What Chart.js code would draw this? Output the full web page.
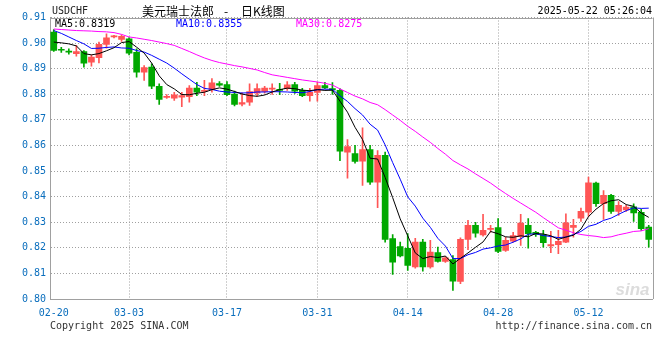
<!DOCTYPE html>
<html>
<head>
<meta charset="utf-8">
<script src="https://cdn.jsdelivr.net/npm/chart.js@4.4.1/dist/chart.umd.min.js"></script>
<style>
  html, body { margin: 0; padding: 0; background: #fff; }
  canvas { display: block; }
</style>
</head>
<body>
<canvas id="kline" width="660" height="360"></canvas>
<script>
// --- data ---
const dates = [
  '02-20','02-21','02-22','02-24','02-25','02-26','02-27','02-28','03-01','03-02',
  '03-03','03-04','03-05','03-06','03-07','03-08','03-10','03-11','03-12','03-13',
  '03-14','03-15','03-16','03-17','03-18','03-19','03-20','03-21','03-22','03-24',
  '03-25','03-26','03-27','03-28','03-29','03-31','04-01','04-02','04-03','04-04',
  '04-05','04-07','04-08','04-09','04-10','04-11','04-12','04-14','04-15','04-16',
  '04-17','04-18','04-19','04-21','04-22','04-23','04-24','04-25','04-26','04-28',
  '04-29','04-30','05-01','05-02','05-03','05-05','05-06','05-07','05-08','05-09',
  '05-10','05-12','05-13','05-14','05-15','05-16','05-17','05-19','05-20','05-21'
];
const tickLabels = ['02-20', '03-03', '03-17', '03-31', '04-14', '04-28', '05-12'];

const open = [
  0.9043,0.8974,0.8967,0.8959,0.8967,0.8925,0.8943,0.8995,0.9024,0.9014,
  0.9017,0.8964,0.8886,0.8906,0.8831,0.8788,0.8785,0.8789,0.8791,0.8824,
  0.8811,0.8818,0.8842,0.8838,0.8801,0.8761,0.8769,0.8804,0.8811,0.8820,
  0.8819,0.8822,0.8838,0.8815,0.8795,0.8807,0.8834,0.8822,0.8815,0.8574,
  0.8568,0.8539,0.8584,0.8457,0.8561,0.8236,0.8205,0.8198,0.8125,0.8222,
  0.8125,0.8181,0.8147,0.8154,0.8069,0.8233,0.8288,0.8250,0.8272,0.8279,
  0.8190,0.8226,0.8245,0.8288,0.8261,0.8252,0.8207,0.8212,0.8222,0.8280,
  0.8316,0.8339,0.8453,0.8373,0.8405,0.8342,0.8348,0.8360,0.8339,0.8281
];
const high = [
  0.9053,0.8983,0.8978,0.8991,0.8971,0.8954,0.9004,0.9036,0.9030,0.9032,
  0.9022,0.8978,0.8912,0.8919,0.8841,0.8799,0.8808,0.8808,0.8834,0.8847,
  0.8854,0.8861,0.8850,0.8850,0.8812,0.8806,0.8841,0.8841,0.8831,0.8841,
  0.8843,0.8850,0.8847,0.8823,0.8823,0.8847,0.8847,0.8846,0.8822,0.8623,
  0.8600,0.8669,0.8600,0.8580,0.8574,0.8252,0.8222,0.8256,0.8237,0.8233,
  0.8229,0.8203,0.8166,0.8170,0.8239,0.8307,0.8300,0.8331,0.8288,0.8314,
  0.8242,0.8261,0.8331,0.8314,0.8264,0.8268,0.8264,0.8268,0.8333,0.8311,
  0.8355,0.8476,0.8457,0.8424,0.8409,0.8381,0.8366,0.8372,0.8350,0.8288
];
const low = [
  0.8967,0.8964,0.8957,0.8949,0.8906,0.8910,0.8923,0.8980,0.9020,0.9007,
  0.8954,0.8867,0.8854,0.8822,0.8760,0.8784,0.8776,0.8752,0.8769,0.8795,
  0.8795,0.8808,0.8831,0.8795,0.8754,0.8754,0.8756,0.8793,0.8804,0.8799,
  0.8798,0.8815,0.8803,0.8791,0.8773,0.8773,0.8822,0.8799,0.8541,0.8472,
  0.8531,0.8444,0.8448,0.8357,0.8222,0.8096,0.8164,0.8112,0.8120,0.8109,
  0.8120,0.8144,0.8143,0.8034,0.8060,0.8193,0.8242,0.8246,0.8261,0.8181,
  0.8186,0.8222,0.8209,0.8199,0.8245,0.8203,0.8181,0.8177,0.8220,0.8242,
  0.8303,0.8323,0.8362,0.8311,0.8334,0.8327,0.8342,0.8303,0.8268,0.8203
];
const close = [
  0.8971,0.8972,0.8965,0.8967,0.8922,0.8945,0.8995,0.9021,0.9026,0.9026,
  0.8961,0.8886,0.8904,0.8832,0.8780,0.8791,0.8798,0.8795,0.8824,0.8808,
  0.8815,0.8845,0.8836,0.8798,0.8760,0.8768,0.8811,0.8822,0.8824,0.8822,
  0.8815,0.8837,0.8812,0.8795,0.8808,0.8834,0.8825,0.8817,0.8578,0.8596,
  0.8538,0.8584,0.8457,0.8561,0.8233,0.8144,0.8168,0.8131,0.8222,0.8125,
  0.8183,0.8147,0.8161,0.8070,0.8233,0.8288,0.8257,0.8268,0.8275,0.8186,
  0.8229,0.8248,0.8297,0.8255,0.8252,0.8220,0.8213,0.8225,0.8298,0.8288,
  0.8343,0.8454,0.8373,0.8405,0.8342,0.8366,0.8359,0.8336,0.8275,0.8233
];

const ma5 = [
  0.9004,0.9001,0.8997,0.8989,0.8959,0.8954,0.8959,0.8970,0.8982,0.9002,
  0.9006,0.8984,0.8961,0.8922,0.8872,0.8838,0.8821,0.8799,0.8798,0.8804,
  0.8808,0.8818,0.8825,0.8820,0.8811,0.8801,0.8795,0.8792,0.8797,0.8809,
  0.8818,0.8824,0.8822,0.8816,0.8814,0.8818,0.8815,0.8816,0.8773,0.8730,
  0.8671,0.8623,0.8550,0.8547,0.8475,0.8396,0.8313,0.8247,0.8180,0.8158,
  0.8166,0.8162,0.8168,0.8137,0.8159,0.8180,0.8202,0.8223,0.8264,0.8255,
  0.8243,0.8241,0.8247,0.8243,0.8256,0.8254,0.8247,0.8233,0.8242,0.8249,
  0.8273,0.8322,0.8351,0.8373,0.8384,0.8388,0.8369,0.8362,0.8336,0.8319
];
const ma10 = [
  0.9049,0.9038,0.9024,0.9010,0.8997,0.8979,0.8980,0.8983,0.8985,0.8981,
  0.8980,0.8971,0.8965,0.8952,0.8937,0.8922,0.8902,0.8880,0.8859,0.8838,
  0.8823,0.8819,0.8812,0.8809,0.8807,0.8805,0.8806,0.8809,0.8809,0.8810,
  0.8810,0.8809,0.8807,0.8806,0.8811,0.8818,0.8820,0.8819,0.8794,0.8772,
  0.8744,0.8719,0.8683,0.8660,0.8602,0.8533,0.8468,0.8399,0.8363,0.8316,
  0.8280,0.8237,0.8207,0.8158,0.8158,0.8173,0.8182,0.8195,0.8200,0.8207,
  0.8211,0.8222,0.8235,0.8253,0.8255,0.8248,0.8244,0.8240,0.8242,0.8252,
  0.8264,0.8284,0.8292,0.8307,0.8316,0.8331,0.8345,0.8356,0.8354,0.8355
];
const ma30 = [
  0.9055,0.9053,0.9051,0.9049,0.9048,0.9047,0.9045,0.9044,0.9041,0.9034,
  0.9024,0.9020,0.9015,0.9010,0.9004,0.8998,0.8991,0.8979,0.8967,0.8954,
  0.8942,0.8932,0.8924,0.8918,0.8912,0.8907,0.8901,0.8895,0.8885,0.8876,
  0.8871,0.8866,0.8861,0.8856,0.8852,0.8848,0.8843,0.8836,0.8821,0.8807,
  0.8793,0.8782,0.8768,0.8759,0.8740,0.8719,0.8698,0.8675,0.8655,0.8633,
  0.8612,0.8588,0.8566,0.8541,0.8524,0.8508,0.8489,0.8471,0.8453,0.8432,
  0.8412,0.8393,0.8375,0.8357,0.8339,0.8318,0.8298,0.8278,0.8269,0.8259,
  0.8252,0.8248,0.8245,0.8240,0.8243,0.8251,0.8257,0.8264,0.8266,0.8275
];

// --- styles ---
const UP = '#ff5555';
const DOWN = '#00a800';
const AXIS_BLUE = '#0a6ebd';
const GRID = '#a0a0a0';
const MONO = '"DejaVu Sans Mono", monospace';

const candleColors = open.map((o, i) => close[i] >= o ? UP : DOWN);
const bodies = open.map((o, i) => [o, close[i]]);
const wicks = low.map((l, i) => [l, high[i]]);

// box, titles, legend row, footer and watermark
const decor = {
  id: 'decor',
  beforeDatasetsDraw(chart) {
    const { ctx, chartArea: a } = chart;
    ctx.save();
    ctx.fillStyle = '#dcdcdc';
    ctx.font = 'italic bold 17px "Liberation Sans", Arial, sans-serif';
    ctx.textAlign = 'right';
    ctx.textBaseline = 'alphabetic';
    ctx.fillText('sina', a.right - 3, a.bottom - 4);
    ctx.restore();
  },
  afterDraw(chart) {
    const { ctx, chartArea: a } = chart;
    ctx.save();
    ctx.strokeStyle = GRID;
    ctx.lineWidth = 1;
    ctx.beginPath();
    ctx.moveTo(a.left, Math.round(a.top) + 0.5);
    ctx.lineTo(a.right, Math.round(a.top) + 0.5);
    ctx.moveTo(Math.round(a.right) + 0.5, a.top);
    ctx.lineTo(Math.round(a.right) + 0.5, a.bottom);
    ctx.stroke();

    ctx.textBaseline = 'middle';
    ctx.font = '10px ' + MONO;
    ctx.fillStyle = '#222';
    ctx.textAlign = 'left';
    ctx.fillText('USDCHF', 52, 11);

    ctx.fillStyle = '#000';
    ctx.font = '12px "Noto Sans CJK SC", sans-serif';
    ctx.fillText('美元瑞士法郎', 142, 11);
    ctx.fillText('日K线图', 241, 11);
    ctx.textAlign = 'center';
    ctx.fillText('-', 226, 11);

    ctx.font = '10px ' + MONO;
    ctx.textAlign = 'right';
    ctx.fillText('2025-05-22 05:26:04', 652, 11);

    ctx.textAlign = 'left';
    ctx.fillStyle = '#000';
    ctx.fillText('MA5:' + ma5[ma5.length - 1].toFixed(4), 55, 24);
    ctx.fillStyle = '#0000ff';
    ctx.fillText('MA10:' + ma10[ma10.length - 1].toFixed(4), 176, 24);
    ctx.fillStyle = '#ff00ff';
    ctx.fillText('MA30:' + ma30[ma30.length - 1].toFixed(4), 296, 24);

    ctx.fillStyle = '#333';
    ctx.fillText('Copyright 2025 SINA.COM', 50, 326);
    ctx.textAlign = 'right';
    ctx.fillText('http://finance.sina.com.cn', 652, 326);
    ctx.restore();
  }
};

const maLine = (label, data, color) => ({
  type: 'line',
  label: label,
  data: data,
  borderColor: color,
  borderWidth: 1,
  pointRadius: 0,
  fill: false,
  tension: 0,
  order: 0
});

new Chart(document.getElementById('kline'), {
  type: 'bar',
  data: {
    labels: dates,
    datasets: [
      maLine('MA5', ma5, '#000000'),
      maLine('MA10', ma10, '#0000ff'),
      maLine('MA30', ma30, '#ff00ff'),
      {
        label: 'body',
        data: bodies,
        backgroundColor: candleColors,
        barThickness: 6,
        minBarLength: 1,
        grouped: false,
        order: 1
      },
      {
        label: 'wick',
        data: wicks,
        backgroundColor: candleColors,
        barThickness: 1,
        grouped: false,
        order: 2
      }
    ]
  },
  options: {
    responsive: false,
    animation: false,
    events: [],
    layout: { padding: { top: 17.5, right: 7.5, left: 0, bottom: 0 } },
    plugins: {
      legend: { display: false },
      tooltip: { enabled: false }
    },
    scales: {
      x: {
        offset: true,
        afterFit: s => { s.height = 61; },
        afterBuildTicks: s => {
          s.ticks = s.ticks.filter(t => tickLabels.includes(dates[t.value]));
        },
        ticks: {
          autoSkip: false,
          maxRotation: 0,
          color: AXIS_BLUE,
          font: { family: MONO, size: 10 },
          padding: 8
        },
        grid: {
          offset: false,
          drawTicks: false,
          color: c => (c.tick && c.tick.value === 0) ? 'rgba(0,0,0,0)' : GRID
        },
        border: { color: GRID, dash: [1, 2] }
      },
      y: {
        min: 0.80,
        max: 0.91,
        afterFit: s => { s.width = 50; },
        ticks: {
          stepSize: 0.01,
          color: AXIS_BLUE,
          font: { family: MONO, size: 10 },
          padding: 4,
          callback: v => v.toFixed(2)
        },
        grid: { color: GRID, drawTicks: false },
        border: { color: GRID, dash: [1, 2] }
      }
    }
  },
  plugins: [decor]
});
</script>
</body>
</html>
